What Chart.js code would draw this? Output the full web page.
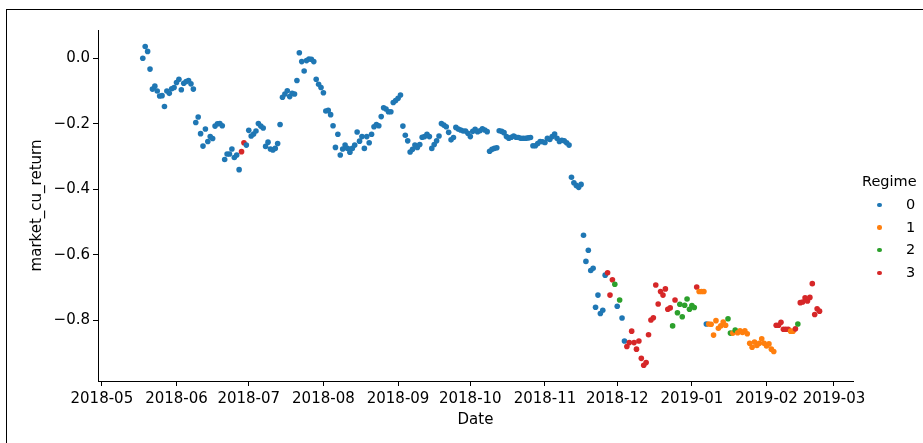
<!DOCTYPE html>
<html>
<head>
<meta charset="utf-8">
<script src="https://cdn.jsdelivr.net/npm/chart.js@4/dist/chart.umd.min.js"></script>
<style>
  html, body { margin: 0; padding: 0; background: #fff; overflow: hidden; }
  body { width: 923px; height: 443px; position: relative; font-family: "DejaVu Sans", sans-serif; }
  #frame { position: absolute; left: 6px; top: 9px; width: 1000px; height: 1000px; border: 1.5px solid #000; box-sizing: border-box; pointer-events: none; }
  #c { position: absolute; left: 0; top: 0; }
  #legend { position: absolute; left: 0; top: 0; width: 923px; height: 443px; pointer-events: none; color: #000; font-size: 14.5px; }
  .lg-title { position: absolute; left: 862px; top: 173px; }
  .lg-dot { position: absolute; width: 4.5px; height: 4.5px; border-radius: 50%; }
  .lg-lab { position: absolute; left: 906px; }
</style>
</head>
<body>
<div id="frame"></div>
<canvas id="c" width="923" height="443" style="width:923px;height:443px"></canvas>
<div id="legend"></div>
<script>
// ---- data ----
const startDate = '2018-05-18';            // first daily observation
const cuReturn = [
  0.000, 0.036, 0.021, -0.033, -0.094, -0.085, -0.100, -0.115, -0.114, -0.147,
  -0.100, -0.107, -0.093, -0.089, -0.074, -0.064, -0.096, -0.076, -0.071, -0.068,
  -0.078, -0.094, -0.196, -0.179, -0.230, -0.268, -0.216, -0.254, -0.239, -0.245,
  -0.207, -0.200, -0.199, -0.206, -0.309, -0.292, -0.292, -0.277, -0.303, -0.295,
  -0.340, -0.285, -0.258, -0.265, -0.220, -0.237, -0.231, -0.222, -0.199, -0.207,
  -0.213, -0.269, -0.256, -0.277, -0.280, -0.275, -0.260, -0.202, -0.119, -0.109,
  -0.099, -0.117, -0.107, -0.109, -0.068, 0.017, -0.010, -0.039, -0.007, -0.002,
  -0.003, -0.010, -0.064, -0.079, -0.089, -0.105, -0.161, -0.159, -0.172, -0.206,
  -0.272, -0.232, -0.295, -0.277, -0.265, -0.275, -0.287, -0.275, -0.265, -0.225,
  -0.253, -0.239, -0.275, -0.239, -0.258, -0.232, -0.209, -0.202, -0.206, -0.178,
  -0.151, -0.155, -0.163, -0.163, -0.135, -0.129, -0.122, -0.112, -0.207, -0.235,
  -0.252, -0.286, -0.278, -0.265, -0.272, -0.263, -0.241, -0.239, -0.232, -0.239,
  -0.275, -0.263, -0.252, -0.237, -0.199, -0.204, -0.209, -0.226, -0.249, -0.242,
  -0.211, -0.216, -0.219, -0.222, -0.222, -0.229, -0.239, -0.223, -0.217, -0.224,
  -0.221, -0.215, -0.219, -0.224, -0.284, -0.278, -0.275, -0.273, -0.221, -0.223,
  -0.227, -0.239, -0.244, -0.241, -0.237, -0.241, -0.242, -0.244, -0.244, -0.244,
  -0.243, -0.242, -0.267, -0.267, -0.260, -0.254, -0.255, -0.257, -0.244, -0.248,
  -0.239, -0.231, -0.244, -0.254, -0.250, -0.252, -0.258, -0.265, -0.363, -0.380,
  -0.388, -0.394, -0.385, -0.540, -0.620, -0.586, -0.648, -0.641, -0.760, -0.723,
  -0.779, -0.769, -0.662, -0.655, -0.723, -0.676, -0.690, -0.757, -0.738, -0.793,
  -0.863, -0.880, -0.868, -0.833, -0.868, -0.888, -0.863, -0.916, -0.937, -0.929,
  -0.844, -0.799, -0.792, -0.692, -0.750, -0.712, -0.723, -0.704, -0.766, -0.762,
  -0.817, -0.738, -0.777, -0.751, -0.789, -0.754, -0.735, -0.766, -0.755, -0.761,
  -0.698, -0.712, -0.712, -0.712, -0.811, -0.811, -0.812, -0.845, -0.801, -0.824,
  -0.817, -0.805, -0.815, -0.795, -0.839, -0.839, -0.830, -0.838, -0.832, -0.837,
  -0.832, -0.841, -0.870, -0.882, -0.866, -0.877, -0.870, -0.856, -0.870, -0.878,
  -0.872, -0.888, -0.895, -0.815, -0.815, -0.806, -0.827, -0.827, -0.827, -0.833,
  -0.833, -0.826, -0.811, -0.746, -0.744, -0.731, -0.741, -0.730, -0.688, -0.782,
  -0.765, -0.772
];
// regime per day, written as [regime, number of consecutive days] runs
const regimeRuns = [
  [0, 41], [3, 2], [0, 150], [3, 3], [2, 1], [0, 1], [2, 1], [0, 2], [3, 19], [2, 1],
  [3, 1], [2, 8], [3, 1], [1, 3], [0, 1], [1, 8], [2, 2], [1, 1], [2, 1], [1, 16],
  [3, 6], [1, 2], [3, 1], [2, 1], [3, 9]
];
const regimeLabels = ['0', '1', '2', '3'];
const regimeColors = ['#1f77b4', '#ff7f0e', '#2ca02c', '#d62728'];
const monthTicks = ['2018-05', '2018-06', '2018-07', '2018-08', '2018-09', '2018-10',
                    '2018-11', '2018-12', '2019-01', '2019-02', '2019-03'];
const yTicks = [-0.8, -0.6, -0.4, -0.2, 0.0];

// ---- build ----
const regimeOf = [];
regimeRuns.forEach(([r, n]) => { for (let k = 0; k < n; k++) regimeOf.push(r); });

const ORIGIN = Date.UTC(2018, 4, 1);
function dayNum(s) {
  const p = s.split('-').map(Number);
  return (Date.UTC(p[0], p[1] - 1, p[2] || 1) - ORIGIN) / 86400000;
}
const d0 = dayNum(startDate);
const points = cuReturn.map((v, i) => ({ x: d0 + i, y: v }));
const tickDays = monthTicks.map(m => dayNum(m + '-01'));

const FONT = { family: '"DejaVu Sans", sans-serif', size: 15 };

new Chart(document.getElementById('c'), {
  type: 'scatter',
  data: {
    datasets: [{
      label: 'market_cu_return',
      data: points,
      pointRadius: 2.8,
      pointBorderWidth: 0,
      pointBackgroundColor: ctx => regimeColors[regimeOf[ctx.dataIndex]],
      pointBorderColor: ctx => regimeColors[regimeOf[ctx.dataIndex]]
    }]
  },
  options: {
    responsive: false,
    animation: false,
    layout: { padding: { top: 30, right: 70, left: 0, bottom: 0 } },
    plugins: { legend: { display: false }, tooltip: { enabled: false } },
    scales: {
      x: {
        type: 'linear',
        min: -1.6, max: 311.9,
        afterBuildTicks: s => { s.ticks = tickDays.map(v => ({ value: v })); },
        afterFit: s => { s.height = 62; },
        ticks: {
          callback: (v, i) => monthTicks[i],
          font: FONT, color: '#000', padding: 4, maxRotation: 0, autoSkip: false
        },
        grid: { drawOnChartArea: false, drawTicks: true, tickLength: 5, tickColor: '#000', tickWidth: 1 },
        border: { display: true, color: '#000', width: 1 },
        title: { display: true, text: 'Date', font: FONT, color: '#000', padding: { top: 0, bottom: 14 } }
      },
      y: {
        min: -0.9852, max: 0.0864,
        afterBuildTicks: s => { s.ticks = yTicks.map(v => ({ value: v })); },
        afterFit: s => { s.width = 98; },
        ticks: {
          callback: v => (v < 0 ? '\u2212' + Math.abs(v).toFixed(1) : v.toFixed(1)),
          font: FONT, color: '#000', padding: 3
        },
        grid: { drawOnChartArea: false, drawTicks: true, tickLength: 5, tickColor: '#000', tickWidth: 1 },
        border: { display: true, color: '#000', width: 1 },
        title: { display: true, text: 'market_cu_return', font: FONT, color: '#000', padding: { top: 28, bottom: 0 } }
      }
    }
  }
});

// ---- legend (HTML text) ----
const lg = document.getElementById('legend');
const t = document.createElement('div');
t.className = 'lg-title'; t.textContent = 'Regime'; lg.appendChild(t);
regimeLabels.forEach((lab, i) => {
  const cy = 205 + i * 22.6;
  const d = document.createElement('div');
  d.className = 'lg-dot';
  d.style.left = (879.3 - 2.25) + 'px'; d.style.top = (cy - 2.25) + 'px';
  d.style.background = regimeColors[i];
  lg.appendChild(d);
  const l = document.createElement('div');
  l.className = 'lg-lab'; l.textContent = lab;
  l.style.top = (cy - 9) + 'px';
  lg.appendChild(l);
});
</script>
</body>
</html>
